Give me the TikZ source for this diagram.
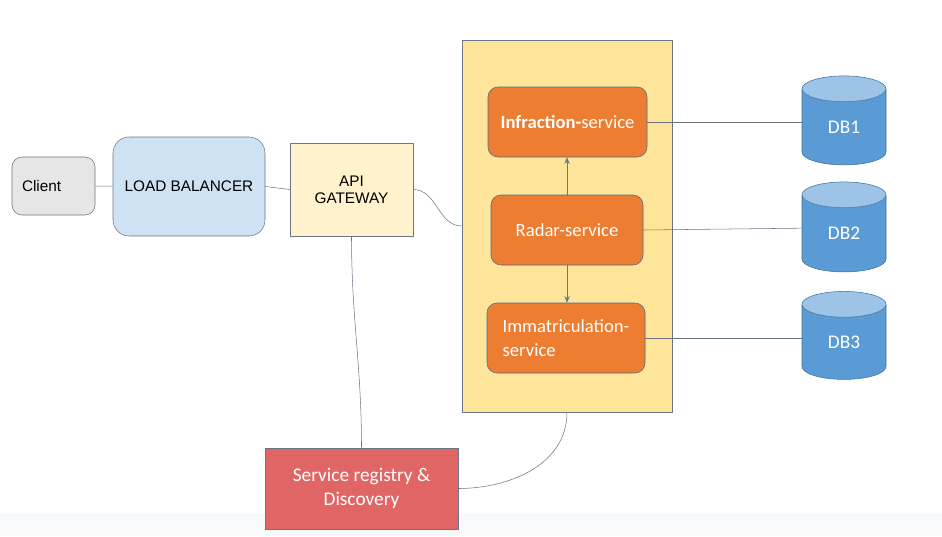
\documentclass[tikz,border=0pt]{standalone}
\usepackage{fontspec}
\setmainfont{Carlito}
\newfontfamily\arialfont{Liberation Sans}
\usetikzlibrary{shapes.geometric,arrows.meta}
\definecolor{linegray}{HTML}{6B7585}
\definecolor{boxgray}{HTML}{E6E6E6}
\definecolor{lbblue}{HTML}{CFE2F3}
\definecolor{apiyellow}{HTML}{FFF2CC}
\definecolor{srvyellow}{HTML}{FFE599}
\definecolor{msorange}{HTML}{ED7D31}
\definecolor{msborder}{HTML}{4F6A8C}
\definecolor{dbblue}{HTML}{5B9BD5}
\definecolor{dbtop}{HTML}{9DC3E6}
\definecolor{dbborder}{HTML}{41719C}
\definecolor{regred}{HTML}{E06666}
\definecolor{bandgray}{HTML}{F8F9FB}
\begin{document}
\begin{tikzpicture}[x=0.75pt,y=-0.75pt,
  box/.style={draw=linegray,inner sep=0pt,font=\arialfont\fontsize{11.5}{12.75}\selectfont,align=center},
  micro/.style={draw=msborder,fill=msorange,rounded corners=7.5pt,minimum height=52.5pt,inner sep=0pt,
    text=white,font=\fontsize{14}{18}\selectfont},
  db/.style={cylinder,shape border rotate=90,aspect=0.8,draw=dbborder,cylinder uses custom fill,
    cylinder body fill=dbblue,cylinder end fill=dbtop,minimum width=63pt,inner sep=0pt,
    text=white,font=\fontsize{14.5}{16}\selectfont},
  link/.style={draw=linegray,thin}]

% frame
\useasboundingbox (0,0) rectangle (942,536);
\fill[bandgray] (0,513) rectangle (942,536);

% entry
\node[box,fill=boxgray,rounded corners=7.5pt,minimum width=62.25pt,minimum height=43.5pt,
  inner xsep=7.5pt,text width=47.25pt,align=left] (client) at (53.5,186) {Client};
\node[box,fill=lbblue,rounded corners=12pt,minimum width=114pt,minimum height=74.25pt] (lb) at (189,186.5) {LOAD BALANCER};
\node[box,fill=apiyellow,minimum width=92.25pt,minimum height=69.75pt] (api) at (351.5,189.5) {API\\GATEWAY};

% services
\node[draw=linegray,fill=srvyellow,minimum width=157.5pt,minimum height=279pt,inner sep=0pt] (srv) at (567,226) {};
\node[micro,minimum width=119.25pt] (infra) at (567.5,122) {\textbf{Infraction-}service};
\node[micro,minimum width=114pt] (radar) at (567,230) {Radar-service};
\node[micro,minimum width=118.5pt,align=left] (immat) at (566,338) {Immatriculation-\\service};

% databases
\node[db,minimum height=66.75pt] (db1) at (844,127) {DB1};
\node[db,minimum height=67.5pt] (db2) at (844,233.5) {DB2};
\node[db,minimum height=66pt] (db3) at (844,342) {DB3};

% registry
\node[draw=linegray,fill=regred,minimum width=144.75pt,minimum height=60.75pt,inner sep=0pt,
  text=white,align=center,font=\fontsize{14.5}{18}\selectfont] (reg) at (361.5,488.5) {Service registry \&\\Discovery};

% links
\draw[link] (client) -- (lb);
\draw[link] (lb.east) -- (api.west);
\draw[link] (api.east) to[out=0,in=180] (srv.west);
\draw[link] (api.south) to[out=-90,in=90] (reg.north);
\draw[link] (srv.south) to[out=-90,in=0] (reg.east);
\draw[link] (infra.east) -- (infra.east -| db1.west);
\draw[link] (radar.east) -- ([yshift=4pt]db2.west);
\draw[link] (immat.east) -- (immat.east -| db3.west);
\draw[link,-{Stealth[length=5pt,width=4pt]}] (radar.north) -- (radar.north |- infra.south);
\draw[link,-{Stealth[length=5pt,width=4pt]}] (radar.south) -- (radar.south |- immat.north);
\end{tikzpicture}
\end{document}
